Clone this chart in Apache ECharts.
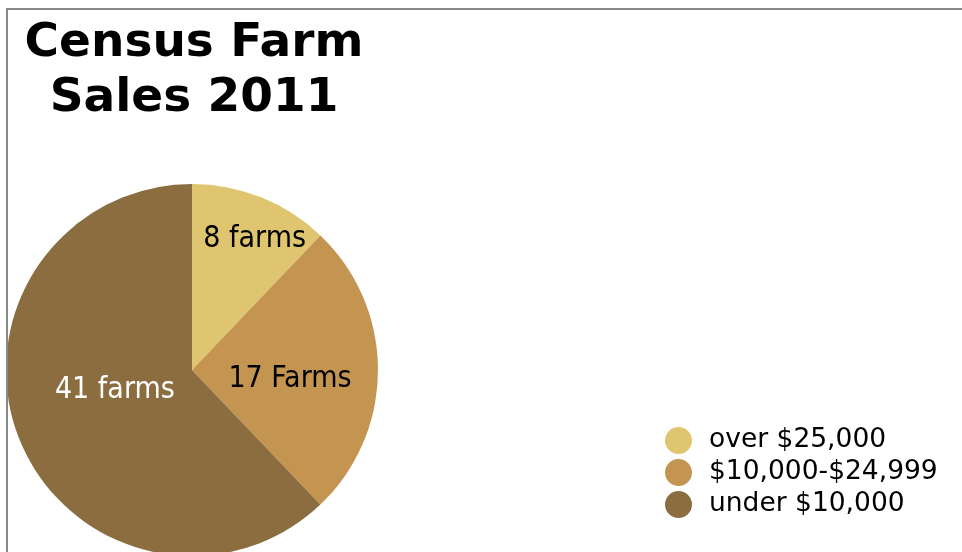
<!DOCTYPE html>
<html>
<head>
<meta charset="utf-8">
<title>Census Farm Sales 2011</title>
<script src="https://cdn.jsdelivr.net/npm/echarts@6/dist/echarts.min.js"></script>
<style>
  html, body { margin: 0; padding: 0; background: #ffffff; }
  #chart { width: 962px; height: 552px; }
</style>
</head>
<body>
<div id="chart"></div>
<script>
// Sales classes and number of farms in each
const categories = ['over $25,000', '$10,000-$24,999', 'under $10,000'];
const farmCounts = [8, 17, 41];
const sliceLabels = ['8 farms', '17 Farms', '41 farms'];

const sliceColors = ['#e0c570', '#c49550', '#8b6d40'];
const labelColors = ['#000000', '#000000', '#ffffff'];
// nudges applied to the inside labels (pixels)
const labelNudges = [[27, -42], [2, 9], [12, -15]];

const chart = echarts.init(document.getElementById('chart'), null, { renderer: 'canvas' });

chart.setOption({
  animation: false,
  backgroundColor: '#ffffff',
  title: {
    text: 'Census Farm\nSales 2011',
    left: 189,
    top: 11,
    textAlign: 'center',
    textStyle: {
      fontFamily: 'DejaVu Sans',
      fontWeight: 'bold',
      fontSize: 47,
      lineHeight: 55,
      color: '#000000'
    }
  },
  legend: {
    orient: 'vertical',
    left: 660,
    top: 422,
    icon: 'circle',
    itemWidth: 27,
    itemHeight: 27,
    itemGap: 5,
    data: categories,
    textStyle: {
      fontFamily: 'DejaVu Sans',
      fontSize: 26.5,
      color: '#000000',
      padding: [0, 0, 0, 12]
    }
  },
  graphic: [{
    type: 'rect',
    shape: { x: 7, y: 9, width: 1000, height: 600 },
    style: { fill: 'none', stroke: '#888888', lineWidth: 2 },
    silent: true,
    z: 100
  }],
  series: [{
    type: 'pie',
    center: [192, 370],
    radius: 186,
    startAngle: 90,
    clockwise: true,
    avoidLabelOverlap: false,
    emphasis: { disabled: true },
    itemStyle: { borderWidth: 0 },
    labelLine: { show: false },
    label: {
      show: true,
      position: 'inside',
      fontFamily: 'DejaVu Sans Condensed, DejaVu Sans',
      fontSize: 30,
      formatter: (p) => sliceLabels[p.dataIndex]
    },
    labelLayout: (p) => ({ dx: labelNudges[p.dataIndex][0], dy: labelNudges[p.dataIndex][1] }),
    data: categories.map((name, i) => ({
      name: name,
      value: farmCounts[i],
      itemStyle: { color: sliceColors[i] },
      label: { color: labelColors[i] }
    }))
  }]
});
</script>
</body>
</html>
